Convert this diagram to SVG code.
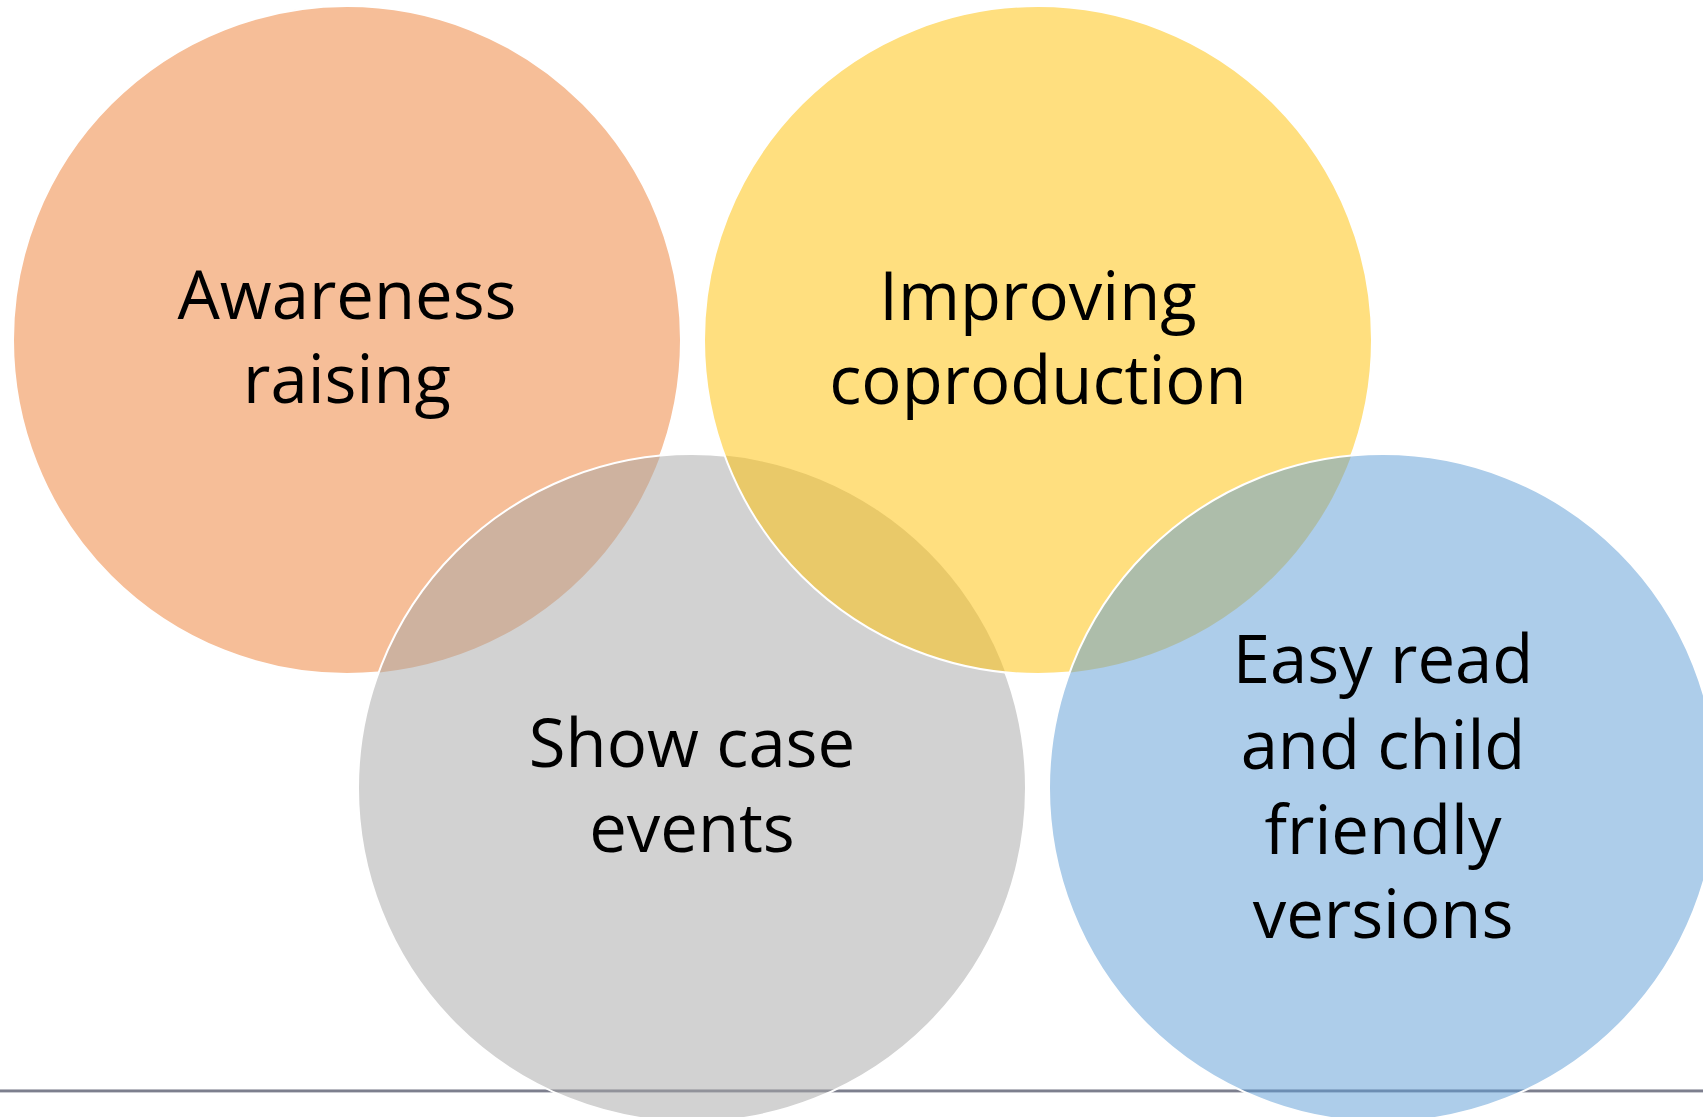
<svg xmlns="http://www.w3.org/2000/svg" width="1703" height="1117" viewBox="0 0 1703 1117">
<style>
.fillc{fill-opacity:0.5;stroke:none}
.edge{fill:none;stroke:#ffffff;stroke-width:2}
.lbl{font-family:"Open Sans","Noto Sans","Liberation Sans",sans-serif;font-size:67px;fill:#000000;text-anchor:middle}
</style>
<defs>
<mask id="mOrange" maskUnits="userSpaceOnUse" x="0" y="0" width="1703" height="1117"><rect width="1703" height="1117" fill="#fff"/><circle cx="692" cy="788" r="334" fill="#000"/></mask>
<mask id="mGray" maskUnits="userSpaceOnUse" x="0" y="0" width="1703" height="1117"><rect width="1703" height="1117" fill="#fff"/><circle cx="1038" cy="340" r="334" fill="#000"/></mask>
<mask id="mYellow" maskUnits="userSpaceOnUse" x="0" y="0" width="1703" height="1117"><rect width="1703" height="1117" fill="#fff"/><circle cx="1383" cy="788" r="334" fill="#000"/></mask>
</defs>
<rect width="1703" height="1117" fill="#ffffff"/>
<g id="baseline">
<rect x="0" y="1089" width="1703" height="1" fill="#B8B9C1"/>
<rect x="0" y="1090" width="1703" height="2.4" fill="#7D7F8E"/>
</g>
<g id="awareness">
<circle class="fillc" cx="347" cy="340" r="334" fill="#ED7D31"/>
<circle class="edge" cx="347" cy="340" r="334" mask="url(#mOrange)"/>
<text class="lbl" x="347" y="319">Awareness</text>
<text class="lbl" x="347" y="403">raising</text>
</g>
<g id="showcase">
<circle class="fillc" cx="692" cy="788" r="334" fill="#A5A5A5"/>
<circle class="edge" cx="692" cy="788" r="334" mask="url(#mGray)"/>
<text class="lbl" x="692" y="767">Show case</text>
<text class="lbl" x="692" y="852">events</text>
</g>
<g id="coproduction">
<circle class="fillc" cx="1038" cy="340" r="334" fill="#FFC000"/>
<circle class="edge" cx="1038" cy="340" r="334" mask="url(#mYellow)"/>
<text class="lbl" x="1038" y="320">Improving</text>
<text class="lbl" x="1038" y="404">coproduction</text>
</g>
<g id="easyread">
<circle class="fillc" cx="1383" cy="788" r="334" fill="#5B9BD5"/>
<circle class="edge" cx="1383" cy="788" r="334"/>
<text class="lbl" x="1383" y="683">Easy read</text>
<text class="lbl" x="1383" y="769">and child</text>
<text class="lbl" x="1383" y="854">friendly</text>
<text class="lbl" x="1383" y="938">versions</text>
</g>
</svg>
